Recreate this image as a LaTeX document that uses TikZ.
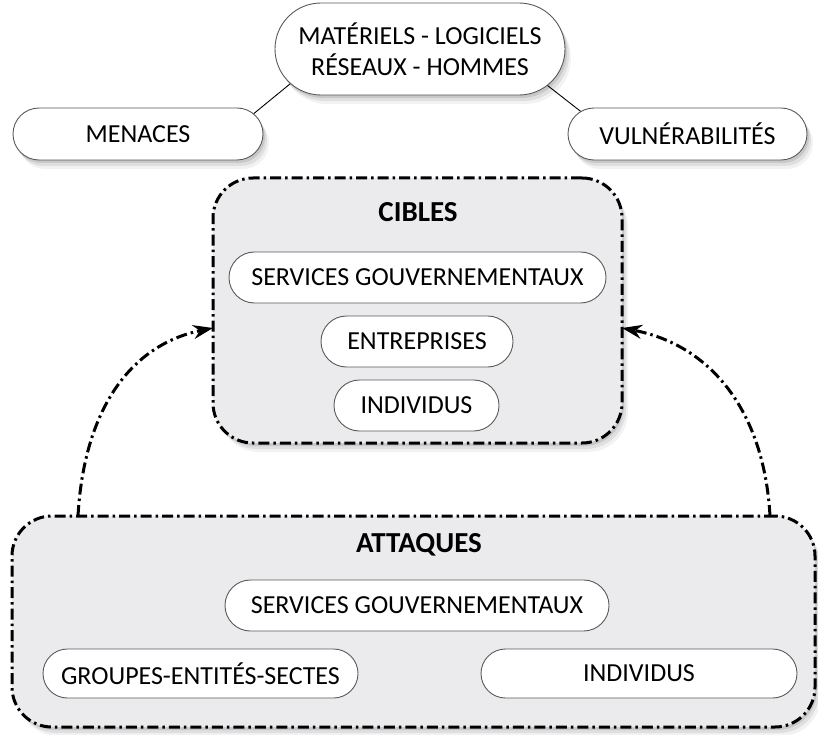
\documentclass[tikz,border=0pt]{standalone}
\usepackage{fontspec}
\setmainfont{Carlito}
\usetikzlibrary{shapes.misc,shadows,arrows.meta}
\definecolor{boxgray}{HTML}{EBEBED}
\definecolor{pillline}{HTML}{5A5A5A}
\tikzset{
  softshadow/.style={
    drop shadow={shadow xshift=2pt,shadow yshift=-3pt,opacity=0.10,fill=black},
    drop shadow={shadow xshift=4pt,shadow yshift=-6pt,opacity=0.08,fill=black},
    drop shadow={shadow xshift=6pt,shadow yshift=-9pt,opacity=0.05,fill=black}},
  pill/.style={rounded rectangle,draw=pillline,line width=0.9pt,fill=white,
    font=\fontsize{26}{31}\selectfont,align=center,inner sep=0pt},
  bigbox/.style={rectangle,rounded corners=40pt,draw=black,fill=boxgray,line width=3pt,
    dash pattern=on 11pt off 4pt on 2.5pt off 4pt,inner sep=0pt},
  title/.style={font=\fontsize{29}{34}\selectfont\bfseries,inner sep=0pt},
  link/.style={draw=black,line width=0.9pt},
  flow/.style={draw=black,line width=3pt,dash pattern=on 11pt off 4pt on 2.5pt off 4pt,
    -{Stealth[length=20pt,width=14pt]}}
}
\begin{document}
\begin{tikzpicture}[x=1pt,y=-1pt]
\useasboundingbox[fill=white] (0,0) rectangle (818,735);
% top level
\node[pill,softshadow,minimum width=290pt,minimum height=92pt] (top) at (420,49)
  {MATÉRIELS - LOGICIELS\\RÉSEAUX - HOMMES};
\node[pill,softshadow,minimum width=250pt,minimum height=52pt] (men) at (138,134) {MENACES};
\node[pill,softshadow,minimum width=239pt,minimum height=52pt] (vul) at (687.5,134) {VULNÉRABILITÉS};
\draw[link] (top.195) -- (men.10);
\draw[link] (top.344) -- (vul.168);
% cibles
\node[bigbox,softshadow,minimum width=409pt,minimum height=265pt] (cib) at (417.5,310.5) {};
\node[title] (cibt) at (418,212) {CIBLES};
\node[pill,minimum width=377pt,minimum height=51pt] (c1) at (417.5,277.5) {SERVICES GOUVERNEMENTAUX};
\node[pill,minimum width=192pt,minimum height=51pt] (c2) at (417,341.5) {ENTREPRISES};
\node[pill,minimum width=165pt,minimum height=51pt] (c3) at (416.5,405.5) {INDIVIDUS};
% attaques
\node[bigbox,softshadow,minimum width=803pt,minimum height=211pt] (att) at (413.5,621.5) {};
\node[title] (attt) at (419,545) {ATTAQUES};
\node[pill,minimum width=384pt,minimum height=51pt] (a1) at (417,605.5) {SERVICES GOUVERNEMENTAUX};
\node[pill,minimum width=315pt,minimum height=49pt] (a2) at (200.5,673.5) {GROUPES-ENTITÉS-SECTES};
\node[pill,minimum width=316pt,minimum height=49pt] (a3) at (639,673.5) {INDIVIDUS};
% arrows
\coordinate (ls) at (78,516);
\coordinate (le) at (213,328);
\coordinate (rs) at (770,516);
\coordinate (re) at (622,328);
\draw[flow] (ls) .. controls (84,410) and (130,345) .. (le);
\draw[flow] (rs) .. controls (764,410) and (710,345) .. (re);
\end{tikzpicture}
\end{document}
